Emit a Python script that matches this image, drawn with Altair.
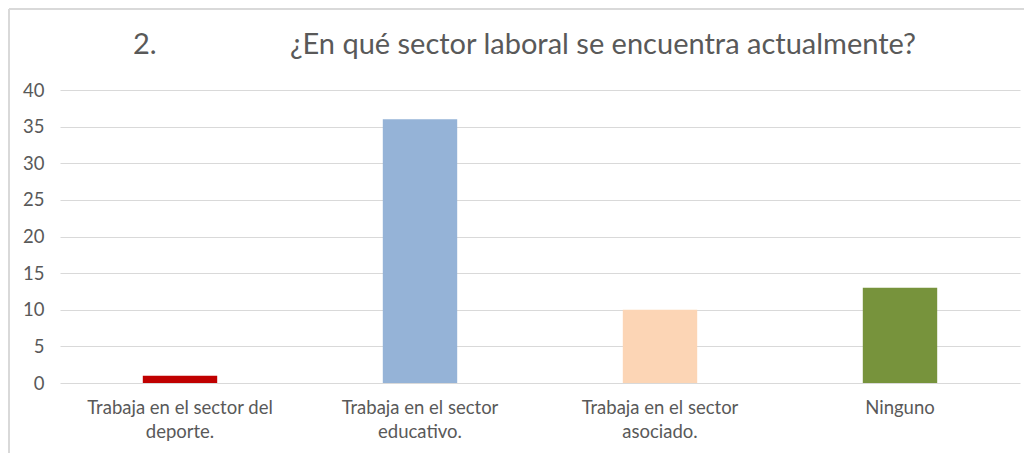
import altair as alt
import pandas as pd

categories = [
    "Trabaja en el sector del deporte.",
    "Trabaja en el sector educativo.",
    "Trabaja en el sector asociado.",
    "Ninguno",
]
label_lines = [
    ["Trabaja en el sector del", "deporte."],
    ["Trabaja en el sector", "educativo."],
    ["Trabaja en el sector", "asociado."],
    ["Ninguno"],
]
values = [1, 36, 10, 13]
colors = ["#C00000", "#95B3D7", "#FCD5B5", "#77933C"]
y_ticks = [0, 5, 10, 15, 20, 25, 30, 35, 40]
title_number = "2."
title_main = "¿En qué sector laboral se encuentra actualmente?"

FONT = "Lato"
W, H = 960, 293

df = pd.DataFrame({"cat": categories, "val": values})

expr = ""
for c, lines in zip(categories, label_lines):
    arr = "[" + ",".join("'" + l + "'" for l in lines) + "]"
    expr += f"datum.label == '{c}' ? {arr} : "
expr += "datum.label"

bars = alt.Chart(df).mark_bar().encode(
    x=alt.X("cat:N", sort=categories, title=None,
            scale=alt.Scale(paddingInner=0.69, paddingOuter=0.345),
            axis=alt.Axis(labelAngle=0, labelExpr=expr, ticks=False, domain=False,
                          labelPadding=15, labelFontSize=18.5, labelColor="#595959",
                          labelFont=FONT, labelLineHeight=24, labelLimit=300)),
    y=alt.Y("val:Q", title=None,
            scale=alt.Scale(domain=[0, 40], nice=False),
            axis=alt.Axis(values=y_ticks, ticks=False, domain=False, grid=True,
                          gridColor="#d9d9d9", labelPadding=16, labelFontSize=18.5,
                          labelColor="#595959", labelFont=FONT)),
    color=alt.Color("cat:N", scale=alt.Scale(domain=categories, range=colors), legend=None),
)

frame_df = pd.DataFrame({"a": [0]})
frame_left = alt.Chart(frame_df).mark_rule(stroke="#d9d9d9", strokeWidth=2, clip=False).encode(
    x=alt.value(-51), y=alt.value(-81), y2=alt.value(H + 120)
)
frame_top = alt.Chart(frame_df).mark_rule(stroke="#d9d9d9", strokeWidth=2, clip=False).encode(
    x=alt.value(-51), x2=alt.value(W + 60), y=alt.value(-81)
)

title_df = pd.DataFrame({"t": [title_number, title_main], "px": [73, 230]})
title = alt.Chart(title_df).mark_text(
    align="left", baseline="alphabetic", font=FONT, fontSize=29, color="#595959"
).encode(
    text="t:N", x=alt.X("px:Q", scale=None), y=alt.value(-36)
)

chart = alt.layer(frame_left, frame_top, bars, title).properties(
    width=W, height=H,
    autosize=alt.AutoSizeParams(type="none"),
    padding={"left": 52, "top": 82, "right": 4, "bottom": 70},
).configure_view(stroke=None)

chart.save("out.html", embed_options={"renderer": "svg", "actions": False})
